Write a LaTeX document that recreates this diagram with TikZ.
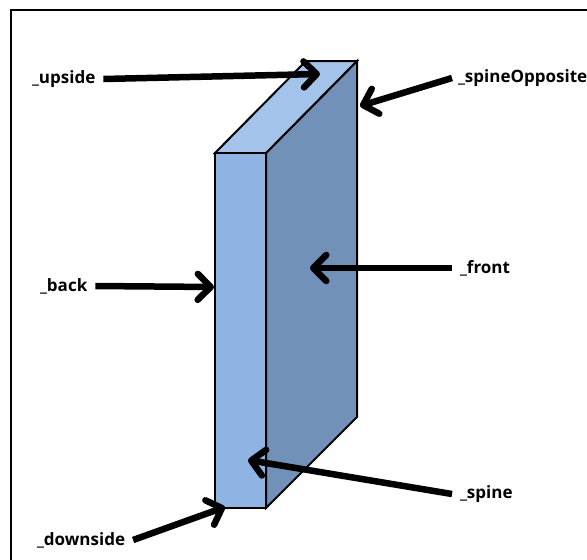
\documentclass[tikz,border=0pt]{standalone}
\usepackage{fontspec}
\setmainfont{Open Sans}
\usetikzlibrary{arrows.meta}
\definecolor{frontc}{HTML}{8FB3E2}
\definecolor{topc}{HTML}{A4C3EA}
\definecolor{sidec}{HTML}{7191B8}
\begin{document}
\begin{tikzpicture}[x=1pt,y=-1pt,
  lab/.style={inner sep=0pt, outer xsep=8pt, font=\fontsize{17}{19}\selectfont\bfseries},
  face/.style={draw=black, line width=2pt, line join=miter},
  arr/.style={line width=6.5pt, -{Straight Barb[length=13pt,width=26pt,round]}}]
\useasboundingbox (0,0) rectangle (587,560);
% frame
\draw[line width=2pt] (11,561) -- (11,9.5) -- (588,9.5);
% box corners
\coordinate (A) at (215,153);
\coordinate (B) at (266,153);
\coordinate (C) at (266,508);
\coordinate (D) at (215,508);
\coordinate (E) at (306,61);
\coordinate (F) at (357,61);
\coordinate (G) at (357,417);
\filldraw[face, fill=sidec] (B) -- (F) -- (G) -- (C) -- cycle;
\filldraw[face, fill=topc] (A) -- (E) -- (F) -- (B) -- cycle;
\filldraw[face, fill=frontc] (A) -- (B) -- (C) -- (D) -- cycle;
% labels
\node[lab, anchor=west] (up) at (24,79) {\_upside};
\node[lab, anchor=west] (back) at (32,286) {\_back};
\node[lab, anchor=west] (down) at (29,540) {\_downside};
\node[lab, anchor=west, outer xsep=6pt] (opp) at (452,78) {\_spineOpposite};
\node[lab, anchor=west] (front) at (452,268) {\_front};
\node[lab, anchor=west] (spine) at (452,494) {\_spine};
% arrow tips
\coordinate (tUp) at (320,74);
\coordinate (tOpp) at (360,106);
\coordinate (tBack) at (214,287);
\coordinate (tFront) at (310,268);
\coordinate (tSpine) at (248,460);
\coordinate (tDown) at (225,507);
\draw[arr] (up.east) -- (tUp);
\draw[arr] (opp.west) -- (tOpp);
\draw[arr] (back.east) -- (tBack);
\draw[arr] (front.west) -- (tFront);
\draw[arr] (spine.west) -- (tSpine);
\draw[arr] (down.east) -- (tDown);
\end{tikzpicture}
\end{document}
